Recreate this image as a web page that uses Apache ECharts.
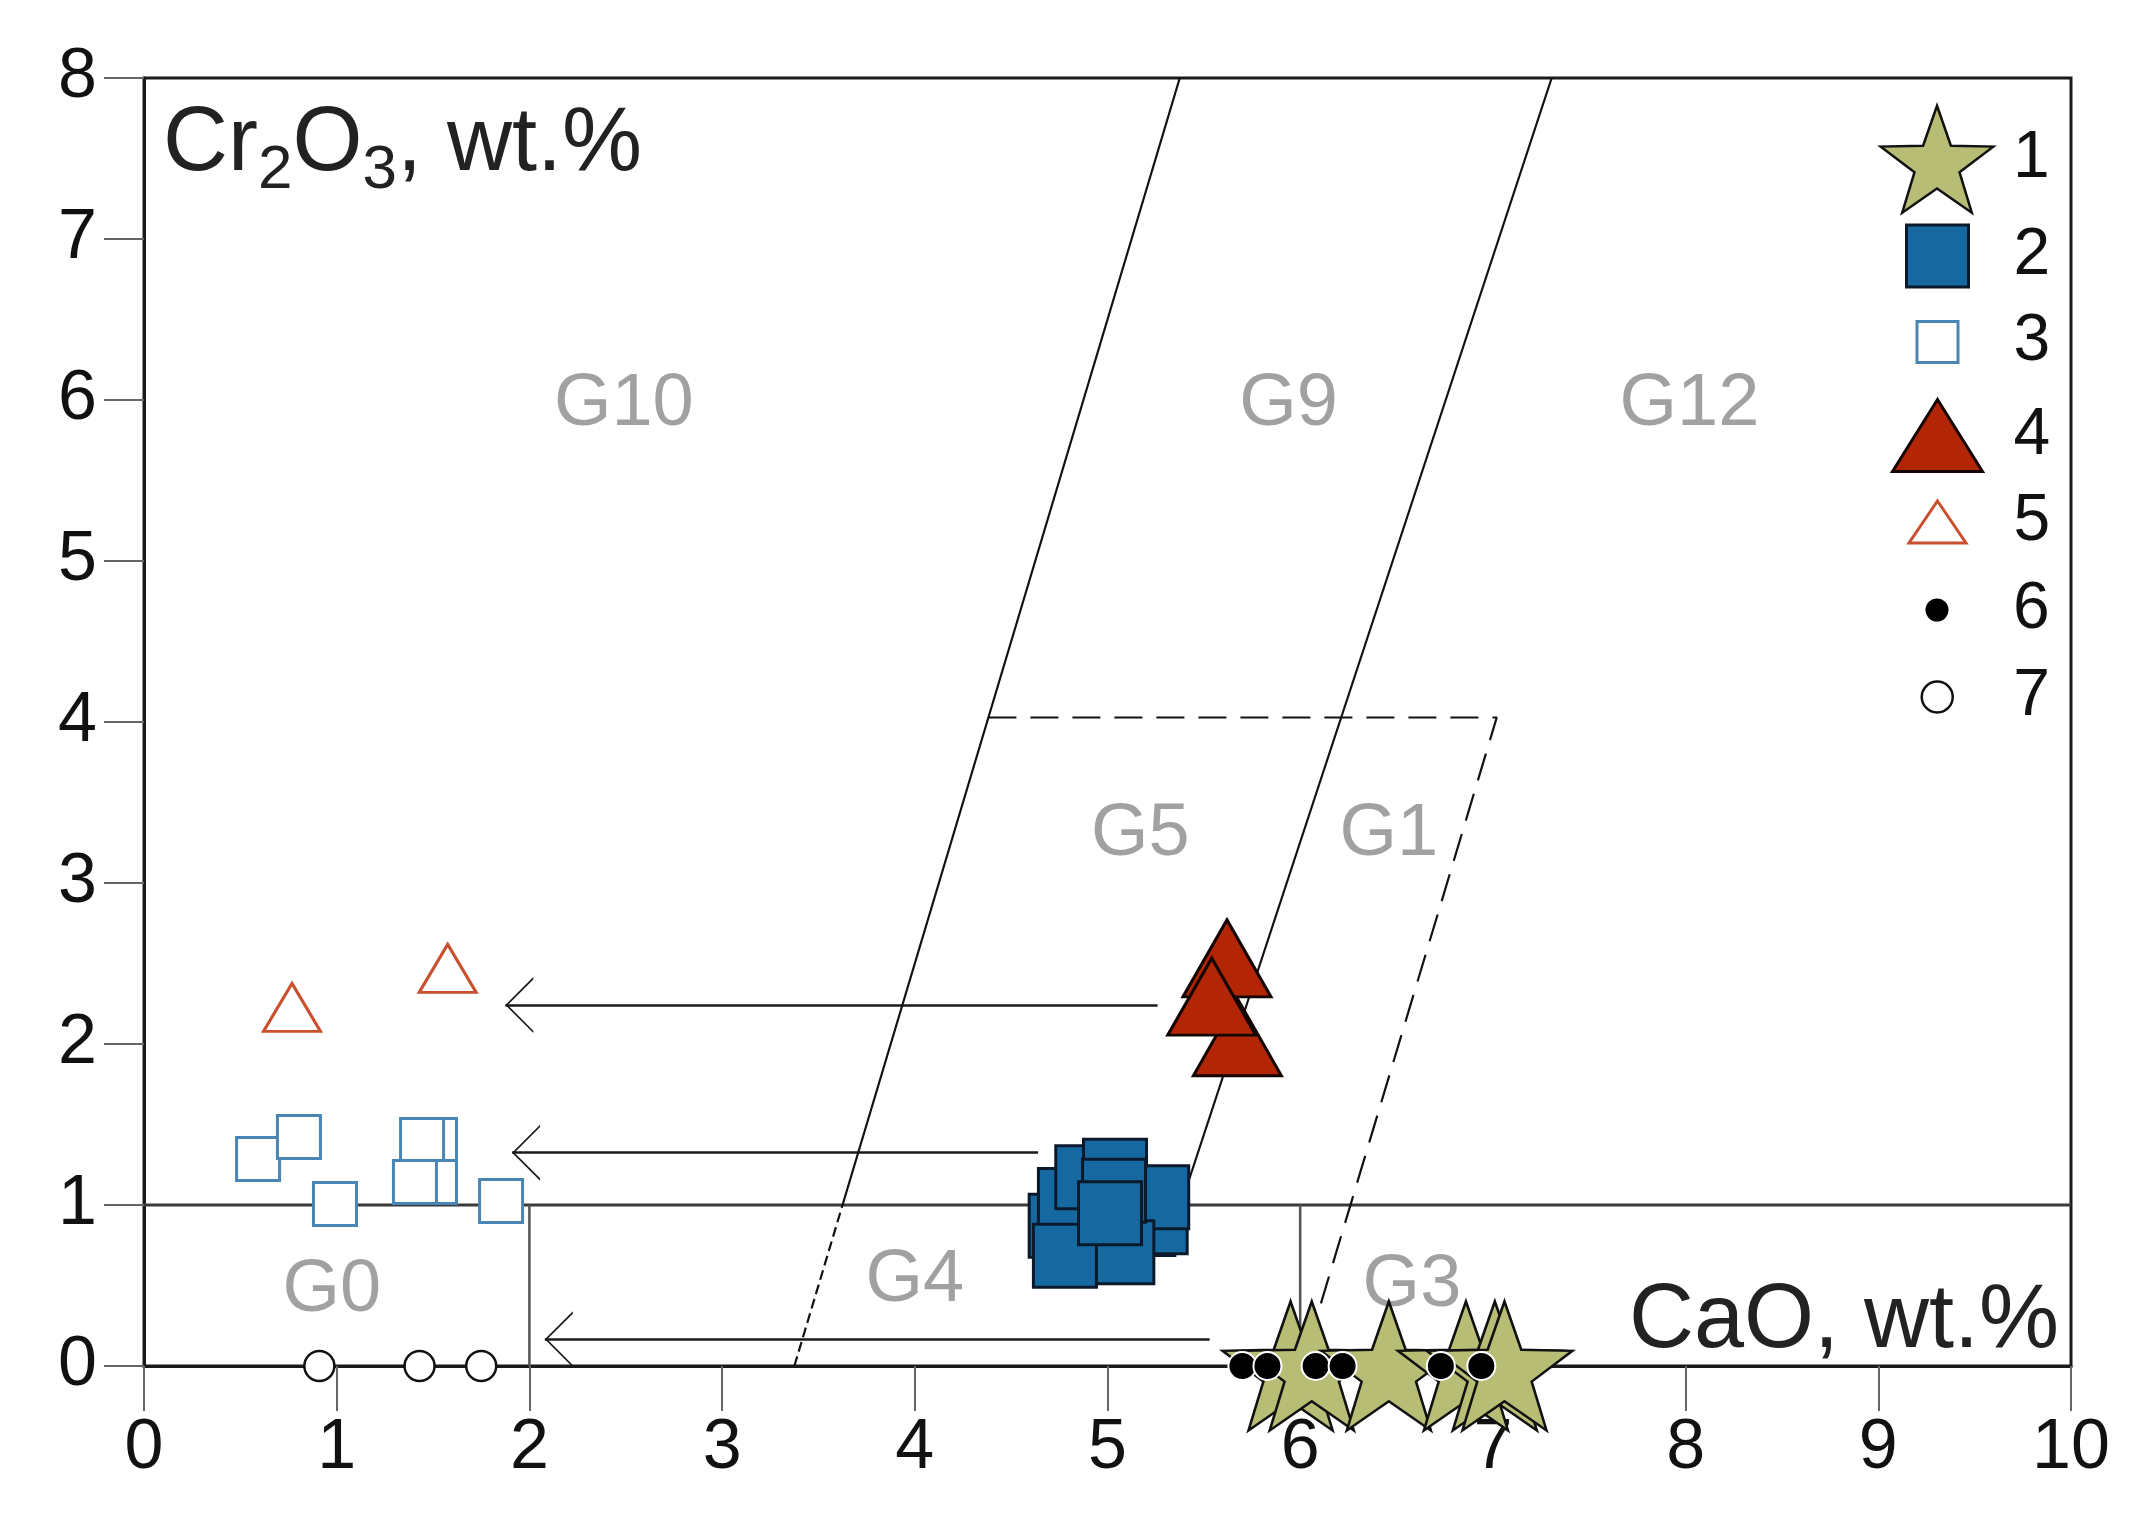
<!DOCTYPE html>
<html>
<head>
<meta charset="utf-8">
<script src="https://cdn.jsdelivr.net/npm/echarts@6/dist/echarts.min.js"></script>
<style>
html,body{margin:0;padding:0;background:#ffffff;}
#chart{width:2152px;height:1525px;}
</style>
</head>
<body>
<div id="chart"></div>
<script>
// ---------------- data (CaO wt.%, Cr2O3 wt.%) ----------------
const xTickLabels = ['0','1','2','3','4','5','6','7','8','9','10'];
const yTickLabels = ['0','1','2','3','4','5','6','7','8'];

const seriesNames = ['1','2','3','4','5','6','7'];

const s1Stars = [[5.95,0],[6.06,0],[6.46,0],[6.86,0],[7.01,0],[7.06,0]];
const s2FilledSquares = [[4.757,0.871],[4.805,1.031],[4.895,1.172],[5.039,1.213],[5.186,0.882],[5.25,0.893],[5.258,1.048],[5.077,0.706],[4.779,0.685],[5.034,1.089],[5.013,0.948]];
const s3OpenSquares = [[0.592,1.286],[0.804,1.422],[0.991,1.006],[1.51,1.404],[1.443,1.404],[1.51,1.143],[1.406,1.143],[1.853,1.025]];
const s4FilledTriangles = [[5.674,2.042],[5.62,2.532],[5.541,2.294]];
const s5OpenTriangles = [[0.768,2.227],[1.576,2.47]];
const s6Dots = [[5.70,0],[5.83,0],[6.08,0],[6.22,0],[6.73,0],[6.94,0]];
const s7Circles = [[0.91,0],[1.43,0],[1.75,0]];

// field boundaries
const lineCr1 = [[0,1],[10,1]];
const lineCa2 = [[2,0],[2,1]];
const lineCa6 = [[6,0],[6,1]];
const g10SolidLine = [[3.625,1],[5.375,8]];
const g10DashedLine = [[3.375,0],[3.625,1]];
const g9g12Line = [[5.38,1],[7.305,8]];
const g1DashedLine = [[4.382,4.028],[7.02,4.028],[6.01,0]];

// arrows (y, start x, arrow tip x)
const arrowY = [2.242, 1.325, 0.166];
const arrowFromX = [5.26, 4.64, 5.53];
const arrowToX = [1.875, 1.91, 2.08];

// field labels
const fieldNames = ['G10','G9','G12','G5','G1','G0','G4','G3'];
const fieldX = [2.49, 5.94, 8.02, 5.17, 6.46, 0.975, 4.0, 6.58];
const fieldY = [5.97, 5.97, 5.97, 3.30, 3.30, 0.47, 0.528, 0.50];

// ---------------- styles ----------------
const FONT = '"Liberation Sans", Arial, Helvetica, sans-serif';

function starPath(rOut, rIn) {
  let d = '';
  for (let i = 0; i < 10; i++) {
    const a = (-90 + 36 * i) * Math.PI / 180;
    const r = (i % 2) ? rIn : rOut;
    d += (i ? 'L' : 'M') + (50 + r * Math.cos(a)).toFixed(2) + ',' + (50 + r * Math.sin(a)).toFixed(2);
  }
  return 'path://' + d + 'Z';
}
const STAR = starPath(50, 20);
const CHEVRON = 'path://M20,-28L20.01,-28Z M20,0L40,28L38.3,28L20,2.4L1.7,28L0,28Z';

const styles = {
  '1': {symbol: STAR, size: [136,129], color: '#b8bd76', border: '#111111', bw: 2.5, leg: [113,107]},
  '2': {symbol: 'rect', size: 63, color: '#1668a0', border: '#0b1a2b', bw: 3, leg: [62,62]},
  '3': {symbol: 'rect', size: 43, color: '#ffffff', border: '#4a86b3', bw: 3, leg: [41,41]},
  '4': {symbol: 'triangle', size: [88,77], color: '#b22606', border: '#150500', bw: 3, leg: [90,72]},
  '5': {symbol: 'triangle', size: [57,48], color: '#ffffff', border: '#c8502f', bw: 3, leg: [57,42]},
  '6': {symbol: 'circle', size: 28, color: '#000000', border: '#ffffff', bw: 2, leg: [25,25]},
  '7': {symbol: 'circle', size: 30, color: '#ffffff', border: '#111111', bw: 2.5, leg: [31,31]}
};
const seriesData = {'1': s1Stars, '2': s2FilledSquares, '3': s3OpenSquares, '4': s4FilledTriangles, '5': s5OpenTriangles, '6': s6Dots, '7': s7Circles};
const drawOrder = ['7','3','5','2','4','1','6'];

function boundary(data, color, width, type) {
  return {
    type: 'line', data: data, showSymbol: false, symbol: 'none', silent: true, z: 1,
    lineStyle: {color: color, width: width, type: type || 'solid'}, animation: false
  };
}

const series = [
  boundary(lineCr1, '#3a3a3a', 3),
  boundary(lineCa2, '#555555', 2.5),
  boundary(lineCa6, '#555555', 2.5),
  boundary(g10SolidLine, '#111111', 2.2),
  boundary(g10DashedLine, '#111111', 2.2, [10, 5]),
  boundary(g9g12Line, '#111111', 2.2),
  boundary(g1DashedLine, '#111111', 2.2, [28, 14]),
  {
    type: 'lines', coordinateSystem: 'cartesian2d', silent: true, z: 1, animation: false,
    data: arrowY.map((y, i) => ({coords: [[arrowFromX[i], y], [arrowToX[i], y]]})),
    symbol: ['none', CHEVRON], symbolSize: [40, 56],
    lineStyle: {color: '#1a1a1a', width: 2.5, opacity: 1, curveness: 0}
  },
  {
    type: 'scatter', silent: true, z: 1, symbolSize: 1, itemStyle: {color: 'rgba(0,0,0,0)'},
    data: fieldNames.map((n, i) => ({name: n, value: [fieldX[i], fieldY[i]]})),
    label: {show: true, position: 'inside', formatter: '{b}', fontSize: 74, color: '#8a8a8a', fontFamily: FONT}
  }
];
drawOrder.forEach(n => {
  const st = styles[n];
  series.push({
    name: n, type: 'scatter', data: seriesData[n], symbol: st.symbol, symbolSize: st.size,
    z: 3, animation: false,
    itemStyle: {color: st.color, borderColor: st.border, borderWidth: st.bw, opacity: 1}
  });
});

// legends: one per series so each symbol keeps its own size
const legendCenterX = 1936, legendTextX = 2012;
const legendRowY = [158, 256, 342, 434, 522, 610, 697];
const legends = seriesNames.map((n, i) => {
  const st = styles[n];
  const w = st.leg[0], h = st.leg[1];
  const boxH = Math.max(h, 66);
  return {
    data: [{name: n, icon: st.symbol}],
    left: legendCenterX - w / 2, top: legendRowY[i] - boxH / 2,
    padding: 0, itemWidth: w, itemHeight: h, selectedMode: false,
    itemStyle: {color: st.color, borderColor: st.border, borderWidth: st.bw},
    textStyle: {fontSize: 66, color: '#111', fontFamily: FONT,
      padding: [0, 0, 0, legendTextX - (legendCenterX + w / 2 + 5)]}
  };
});

const chart = echarts.init(document.getElementById('chart'), null, {renderer: 'canvas'});
chart.setOption({
  backgroundColor: '#ffffff',
  animation: false,
  grid: {left: 144, top: 78, width: 1927, height: 1288, show: true, borderColor: '#1a1a1a', borderWidth: 3},
  xAxis: {
    type: 'value', min: 0, max: 10, interval: 1,
    axisLine: {show: true, onZero: false, lineStyle: {color: '#1a1a1a', width: 3}},
    axisTick: {show: true, length: 45, lineStyle: {color: '#666', width: 2}},
    axisLabel: {margin: 48, fontSize: 70, color: '#111', fontFamily: FONT,
      formatter: v => xTickLabels[Math.round(v)]},
    splitLine: {show: false}
  },
  yAxis: {
    type: 'value', min: 0, max: 8, interval: 1,
    axisLine: {show: true, onZero: false, lineStyle: {color: '#1a1a1a', width: 3}},
    axisTick: {show: true, length: 40, lineStyle: {color: '#666', width: 2}},
    axisLabel: {margin: 47, fontSize: 70, color: '#111', fontFamily: FONT,
      formatter: v => yTickLabels[Math.round(v)]},
    splitLine: {show: false}
  },
  legend: legends,
  graphic: [
    {
      type: 'text', left: 163, top: 100, z: 10,
      style: {
        text: '{a|Cr}{s|2}{a|O}{s|3}{a|, wt.%}',
        rich: {
          a: {fontSize: 90, fontFamily: FONT, fill: '#222', color: '#222', lineHeight: 90, verticalAlign: 'top'},
          s: {fontSize: 62, fontFamily: FONT, fill: '#222', color: '#222', lineHeight: 102, verticalAlign: 'bottom'}
        }
      }
    },
    {
      type: 'text', x: 2059, y: 1322, z: 10,
      style: {text: 'CaO, wt.%', fontSize: 90, fontFamily: FONT, fill: '#222', textAlign: 'right', textVerticalAlign: 'middle'}
    }
  ],
  series: series
});
</script>
</body>
</html>
